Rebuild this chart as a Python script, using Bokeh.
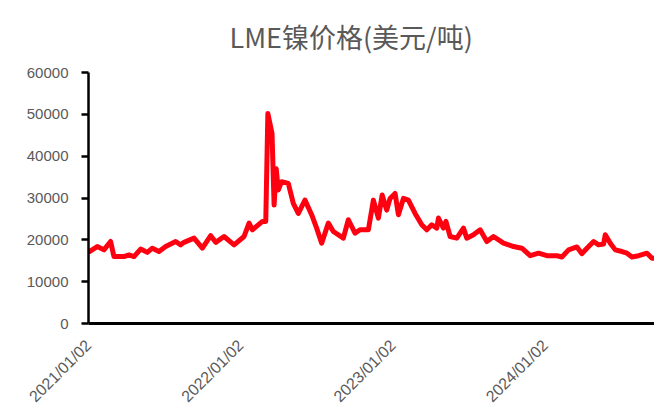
import pandas as pd
from bokeh.plotting import figure
from bokeh.models import Range1d, FixedTicker, DatetimeTickFormatter, NumeralTickFormatter
from bokeh.embed import file_html
from bokeh.resources import INLINE

title_text = "LME镍价格(美元/吨)"

dates = [
    "2021-01-04", "2021-01-23", "2021-02-08", "2021-02-24", "2021-03-04", "2021-03-28",
    "2021-04-09", "2021-04-21", "2021-05-07", "2021-05-23", "2021-06-04", "2021-06-20",
    "2021-07-06", "2021-07-30", "2021-08-11", "2021-08-19", "2021-09-12", "2021-10-02",
    "2021-10-22", "2021-11-03", "2021-11-23", "2021-12-17", "2022-01-10", "2022-01-22",
    "2022-01-30", "2022-02-23", "2022-03-03", "2022-03-08", "2022-03-18", "2022-03-23",
    "2022-03-28", "2022-04-02", "2022-04-10", "2022-04-26", "2022-05-08", "2022-05-20",
    "2022-06-05", "2022-06-21", "2022-07-03", "2022-07-15", "2022-07-31", "2022-08-12",
    "2022-09-05", "2022-09-17", "2022-10-03", "2022-10-15", "2022-11-04", "2022-11-16",
    "2022-11-28", "2022-12-07", "2022-12-18", "2022-12-26", "2023-01-07", "2023-01-15",
    "2023-01-27", "2023-02-08", "2023-02-24", "2023-03-12", "2023-03-24", "2023-04-05",
    "2023-04-17", "2023-04-21", "2023-05-03", "2023-05-09", "2023-05-19", "2023-06-04",
    "2023-06-20", "2023-06-28", "2023-07-14", "2023-07-30", "2023-08-15", "2023-08-31",
    "2023-09-24", "2023-10-18", "2023-11-07", "2023-11-27", "2023-12-17", "2024-01-06",
    "2024-01-30", "2024-02-11", "2024-02-27", "2024-03-18", "2024-03-30", "2024-04-11",
    "2024-04-27", "2024-05-09", "2024-05-21", "2024-05-25", "2024-06-06", "2024-06-18",
    "2024-07-04", "2024-07-16", "2024-07-28", "2024-08-13", "2024-09-02", "2024-09-14",
    "2024-09-20",
]
prices = [
    17200, 18400, 17600, 19600, 16000, 16000,
    16400, 16000, 17800, 17000, 18000, 17200,
    18400, 19600, 18800, 19400, 20400, 18000,
    21000, 19400, 20800, 18800, 20800, 24000,
    22400, 24400, 24400, 50200, 45400, 28300,
    37000, 31900, 33900, 33500, 28700, 26300,
    29500, 26000, 22800, 19200, 24000, 22000,
    20400, 24800, 21600, 22400, 22400, 29500,
    25200, 30700, 27100, 29900, 31100, 26000,
    29900, 29500, 26300, 23600, 22400, 23600,
    22800, 25200, 22800, 24400, 20800, 20400,
    22800, 20400, 21200, 22400, 19600, 20800,
    19200, 18400, 18000, 16200, 16800, 16200,
    16200, 15900, 17600, 18300, 16700, 18000,
    19600, 18800, 19000, 21200, 19200, 17600,
    17200, 16800, 15900, 16200, 16800, 15600,
    15600,
]
x_tick_dates = ["2021-01-02", "2022-01-02", "2023-01-02", "2024-01-02"]
y_ticks = [0, 10000, 20000, 30000, 40000, 50000, 60000]
x_start, x_end = "2021-01-02", "2024-09-20"

xd = pd.to_datetime(dates)
tick_ms = [pd.Timestamp(d).value // 10**6 for d in x_tick_dates]

p = figure(width=654, height=414, output_backend="svg", toolbar_location=None,
           x_axis_type="datetime",
           x_range=Range1d(pd.Timestamp(x_start), pd.Timestamp(x_end)),
           y_range=Range1d(0, 60000),
           min_border_left=88, min_border_right=0, min_border_top=72, min_border_bottom=90)

p.title.text = title_text
p.title.align = "left"
p.title.vertical_align = "top"
p.title.offset = 141
p.title.standoff = 30
p.title.text_font = "Noto Sans CJK SC"
p.title.text_font_size = "27px"
p.title.text_font_style = "normal"
p.title.text_color = "#595959"

p.line(xd, prices, line_color="#FF0010", line_width=5, line_join="round", line_cap="round")

p.xgrid.visible = False
p.ygrid.visible = False
p.outline_line_color = None
p.background_fill_color = "white"
p.border_fill_color = "white"

xa = p.xaxis[0]
xa.ticker = FixedTicker(ticks=tick_ms)
fmt = "%Y/%m/%d"
xa.formatter = DatetimeTickFormatter(milliseconds=fmt, seconds=fmt, minsec=fmt, minutes=fmt,
                                     hourmin=fmt, hours=fmt, days=fmt, months=fmt, years=fmt)
xa.major_label_orientation = 0.785398
xa.major_tick_out = 0
xa.major_tick_in = 0
xa.minor_tick_out = 0
xa.minor_tick_in = 0
xa.axis_line_width = 3
xa.axis_line_color = "black"
xa.major_label_text_font = "Liberation Sans"
xa.major_label_text_font_size = "16px"
xa.major_label_text_color = "#595959"
xa.major_label_standoff = 19

ya = p.yaxis[0]
ya.ticker = FixedTicker(ticks=y_ticks)
ya.formatter = NumeralTickFormatter(format="0")
ya.major_tick_out = 7
ya.major_tick_in = 0
ya.minor_tick_out = 0
ya.minor_tick_in = 0
ya.major_tick_line_width = 2.5
ya.axis_line_width = 2.5
ya.axis_line_color = "black"
ya.major_tick_line_color = "black"
ya.major_label_text_font = "Liberation Sans"
ya.major_label_text_font_size = "15px"
ya.major_label_text_color = "#595959"
ya.major_label_standoff = 13

open("out.html", "w").write(file_html(p, INLINE))
